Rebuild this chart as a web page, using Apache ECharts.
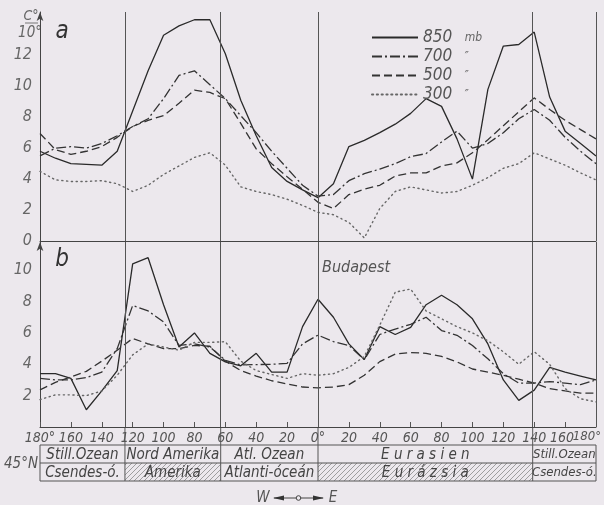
<!DOCTYPE html>
<html><head><meta charset="utf-8">
<script src="https://cdn.jsdelivr.net/npm/echarts@6/dist/echarts.min.js"></script>
<style>html,body{margin:0;padding:0;background:#ece8ed}#c{width:604px;height:505px}</style>
</head><body><div id="c"></div>
<script>
const lons = [-180,-170,-160,-150,-140,-130,-120,-110,-100,-90,-80,-70,-60,-50,-40,-30,-20,-10,0,10,20,30,40,50,60,70,80,90,100,110,120,130,140,150,160,170,180];
// panel a
const a850 = [5.8,5.35,5.0,4.95,4.9,5.8,8.4,11.0,13.3,13.9,14.3,14.3,12.1,9.1,6.8,4.75,3.85,3.3,2.8,3.7,6.1,6.5,7.0,7.55,8.25,9.2,8.7,6.6,4.0,9.8,12.6,12.7,13.5,9.3,7.1,6.3,5.5];
const a700 = [5.5,6.0,6.1,6.0,6.3,6.8,7.4,7.9,9.2,10.7,11.0,10.1,9.2,8.1,7.0,5.8,4.7,3.6,2.9,3.0,3.9,4.35,4.65,5.0,5.45,5.65,6.4,7.1,6.0,6.3,7.0,7.9,8.5,7.8,6.7,5.8,5.0];
const a500 = [6.95,5.9,5.6,5.8,6.1,6.7,7.4,7.8,8.1,8.9,9.75,9.6,9.2,7.6,5.95,5.0,4.15,3.35,2.5,2.1,3.0,3.35,3.6,4.2,4.4,4.4,4.85,5.05,5.7,6.55,7.45,8.35,9.25,8.5,7.8,7.2,6.6];
const a300 = [4.5,3.95,3.85,3.85,3.9,3.7,3.2,3.6,4.3,4.85,5.4,5.7,4.9,3.5,3.2,3.0,2.7,2.3,1.85,1.7,1.2,0.2,2.1,3.2,3.5,3.3,3.1,3.2,3.6,4.1,4.7,5.0,5.7,5.3,4.9,4.4,3.95];
// panel b
const b850 = [3.4,3.4,3.1,1.1,2.3,3.6,10.4,10.8,7.8,5.1,6.0,4.7,4.15,3.9,4.7,3.5,3.5,6.4,8.15,7.0,5.3,4.3,6.4,5.9,6.35,7.8,8.4,7.8,6.9,5.3,3.0,1.7,2.35,3.8,3.5,3.25,3.0];
const b700 = [3.1,3.0,3.0,3.15,3.5,5.0,7.75,7.4,6.7,5.2,5.3,5.1,4.25,3.96,3.98,4.0,4.06,5.3,5.86,5.45,5.2,4.3,5.9,6.25,6.55,7.0,6.15,5.85,5.2,4.35,3.4,2.8,2.8,2.9,2.8,2.7,3.0];
const b500 = [2.37,2.85,3.2,3.55,4.2,4.9,5.65,5.3,5.0,5.0,5.2,5.15,4.2,3.6,3.25,2.95,2.75,2.55,2.5,2.55,2.7,3.3,4.17,4.65,4.75,4.7,4.5,4.15,3.7,3.5,3.3,3.05,2.8,2.45,2.3,2.16,2.16];
const b300 = [1.75,2.05,2.05,2.0,2.3,3.3,4.6,5.3,5.1,4.9,5.4,5.4,5.44,4.2,3.6,3.35,3.1,3.4,3.3,3.4,3.8,4.5,6.5,8.6,8.8,7.4,6.9,6.4,6.0,5.5,4.8,4.0,4.8,4.0,2.45,1.8,1.6];

const levelNames = ['850 mb','700 ″','500 ″','300 ″'];
const dividers = [-125,-63,0,139,180];
const cellBounds = [-180,-125,-63,0,139,180];
const row1 = ['Still.Ozean','Nord Amerika','Atl. Ozean','E u r a s i e n','Still.Ozean'];
const row2 = ['Csendes-ó.','Amerika','Atlanti-óceán','E u r á z s i a','Csendes-ó.'];
const hatched = [false,true,false,true,false];

const FONT = "'Liberation Sans Narrow','DejaVu Sans Condensed','Liberation Sans',sans-serif";
const lineStyles = [
  {type:'solid', width:1.3, color:'#2a2a2a'},
  {type:[10,3,2,3], width:1.3, color:'#333'},
  {type:[8,4], width:1.3, color:'#333'},
  {type:[1.2,3.6], width:1.4, color:'#666', cap:'round'}
];
const panels = [[a850,a700,a500,a300],[b850,b700,b500,b300]];

const series = [];
panels.forEach((arrs,p)=>{
  arrs.forEach((arr,i)=>{
    const s = {
      type:'line', name:levelNames[i], xAxisIndex:p, yAxisIndex:p,
      data: lons.map((x,k)=>[x,arr[k]]),
      symbol:'none', showSymbol:false, silent:true, animation:false,
      lineStyle: lineStyles[i], z: 3
    };
    if(i===0){
      s.markLine = {silent:true, symbol:['none','none'], label:{show:false},
        lineStyle:{type:'solid', color:'#555', width:1},
        data: dividers.map(v=>({xAxis:v}))};
    }
    series.push(s);
  });
});

function lonLabel(v){
  if(v===0) return '0°';
  if(Math.abs(v)===180) return '180°';
  if(v===160) return '{s|160}';
  return String(Math.abs(v));
}

const chart = echarts.init(document.getElementById('c'), null, {renderer:'canvas'});
const option = {
  backgroundColor:'#ece8ed',
  animation:false,
  grid:[{left:40,right:8,top:12,height:229},{left:40,right:8,top:242,height:185}],
  xAxis:[
    {type:'value',gridIndex:0,min:-180,max:180,interval:20,
     axisLine:{show:true,onZero:false,lineStyle:{color:'#444',width:1}},axisTick:{show:false},axisLabel:{show:false},splitLine:{show:false}},
    {type:'value',gridIndex:1,min:-180,max:180,interval:20,
     axisLine:{show:true,onZero:false,lineStyle:{color:'#444',width:1}},
     axisTick:{show:true,inside:true,length:5,lineStyle:{color:'#555'}},
     axisLabel:{formatter:lonLabel,fontStyle:'italic',fontFamily:FONT,fontSize:14,color:'#555',margin:4,
       showMinLabel:true,showMaxLabel:false,hideOverlap:false,
       rich:{s:{fontStyle:'italic',fontFamily:FONT,fontSize:14,color:'#555',padding:[0,6,0,0]}}},
     splitLine:{show:false}}
  ],
  yAxis:[
    {type:'value',gridIndex:0,min:0,max:14.8,interval:2,
     axisLine:{show:true,onZero:false,symbol:['none','arrow'],symbolSize:[5,9],lineStyle:{color:'#444',width:1}},
     axisTick:{show:false},splitLine:{show:false},
     axisLabel:{formatter:v=>(v<=12&&Math.abs(v%2)<1e-9)?String(v):'',fontStyle:'italic',fontFamily:FONT,fontSize:16,color:'#666',margin:8}},
    {type:'value',gridIndex:1,min:0,max:11.8,interval:2,
     axisLine:{show:true,onZero:false,symbol:['none','arrow'],symbolSize:[5,9],lineStyle:{color:'#444',width:1}},
     axisTick:{show:false},splitLine:{show:false},
     axisLabel:{formatter:v=>(v>0&&v<=10&&Math.abs(v%2)<1e-9)?String(v):'',fontStyle:'italic',fontFamily:FONT,fontSize:16,color:'#666',margin:8}}
  ],
  legend:{orient:'vertical',left:366,top:24,itemWidth:46,itemHeight:12,itemGap:2,selectedMode:false,
    data:levelNames,
    itemStyle:{opacity:0},
    formatter:n=>{const p=n.split(' ');return '{n|'+p[0]+'} {u|'+p[1]+'}';},
    textStyle:{color:'#555',fontStyle:'italic',fontFamily:FONT,fontSize:16,lineHeight:14,
      rich:{n:{fontSize:17,fontStyle:'italic',fontFamily:FONT,color:'#555'},u:{fontSize:12,fontStyle:'italic',fontFamily:FONT,color:'#666',padding:[0,0,0,8]}}}},
  series:series
};
chart.setOption(option);

// hatch pattern
const pc = document.createElement('canvas'); pc.width=5; pc.height=5;
const g = pc.getContext('2d'); g.strokeStyle='#8a8a8a'; g.lineWidth=0.8;
g.beginPath(); g.moveTo(0,5); g.lineTo(5,0); g.moveTo(-1,1); g.lineTo(1,-1); g.moveTo(4,6); g.lineTo(6,4); g.stroke();

const px = v => chart.convertToPixel({xAxisIndex:1}, v);
const yAxisB = 427, tTop = 445, tMid = 463, tBot = 481;
const gfx = [];
for(let c=0;c<5;c++){
  const x0 = px(cellBounds[c]), x1 = px(cellBounds[c+1]);
  if(hatched[c]) gfx.push({type:'rect',shape:{x:x0,y:tMid,width:x1-x0,height:tBot-tMid},style:{fill:{image:pc,repeat:'repeat'},stroke:null},silent:true});
  const fs = c===4 ? 13 : 15;
  gfx.push({type:'text',x:(x0+x1)/2,y:(tTop+tMid)/2+1,style:{text:row1[c],font:`italic ${fs}px ${FONT}`,fill:'#444',align:'center',verticalAlign:'middle'},silent:true});
  gfx.push({type:'text',x:(x0+x1)/2,y:(tMid+tBot)/2+1,style:{text:row2[c],font:`italic ${fs}px ${FONT}`,fill:'#444',align:'center',verticalAlign:'middle'},silent:true});
}
const L = px(-180), R = px(180);
// right end tick label (drawn right-aligned so it stays inside the page)
gfx.push({type:'text',x:R+5,y:437,style:{text:lonLabel(180),font:`italic 13px ${FONT}`,fill:'#555',align:'right',verticalAlign:'middle'},silent:true});
gfx.push({type:'rect',shape:{x:L,y:tTop,width:R-L,height:tBot-tTop},style:{fill:null,stroke:'#555',lineWidth:1},silent:true});
gfx.push({type:'line',shape:{x1:L,y1:tMid,x2:R,y2:tMid},style:{stroke:'#555',lineWidth:1},silent:true});
[-125,-63,0,139].forEach(v=>{const x=px(v);gfx.push({type:'line',shape:{x1:x,y1:yAxisB,x2:x,y2:tBot},style:{stroke:'#555',lineWidth:1},silent:true});});
gfx.push({type:'text',x:21,y:464,style:{text:'45°N',font:`italic 15px ${FONT}`,fill:'#555',align:'center',verticalAlign:'middle'},silent:true});
gfx.push({type:'text',x:62,y:32,style:{text:'a',font:`italic 24px ${FONT}`,fill:'#333',align:'center',verticalAlign:'middle'},silent:true});
gfx.push({type:'text',x:62,y:260,style:{text:'b',font:`italic 24px ${FONT}`,fill:'#333',align:'center',verticalAlign:'middle'},silent:true});
gfx.push({type:'text',x:31,y:16,style:{text:'C°',font:`italic 14px ${FONT}`,fill:'#666',align:'center',verticalAlign:'middle'},silent:true});
gfx.push({type:'line',shape:{x1:25,y1:23,x2:38,y2:23},style:{stroke:'#777',lineWidth:1},silent:true});
gfx.push({type:'text',x:30,y:33,style:{text:'10°',font:`italic 15px ${FONT}`,fill:'#666',align:'center',verticalAlign:'middle'},silent:true});
gfx.push({type:'text',x:px(0)+4,y:268,style:{text:'Budapest',font:`italic 16px ${FONT}`,fill:'#555',align:'left',verticalAlign:'middle'},silent:true});
const wy = 498;
gfx.push({type:'text',x:263,y:wy,style:{text:'W',font:`italic 15px ${FONT}`,fill:'#555',align:'center',verticalAlign:'middle'},silent:true});
gfx.push({type:'text',x:333,y:wy,style:{text:'E',font:`italic 15px ${FONT}`,fill:'#555',align:'center',verticalAlign:'middle'},silent:true});
gfx.push({type:'line',shape:{x1:274,y1:wy,x2:323,y2:wy},style:{stroke:'#444',lineWidth:1.2},silent:true});
gfx.push({type:'polygon',shape:{points:[[273,wy],[284,wy-2.5],[284,wy+2.5]]},style:{fill:'#333'},silent:true});
gfx.push({type:'polygon',shape:{points:[[324,wy],[313,wy-2.5],[313,wy+2.5]]},style:{fill:'#333'},silent:true});
gfx.push({type:'circle',shape:{cx:298.5,cy:wy,r:2.3},style:{fill:'#ece8ed',stroke:'#444',lineWidth:1},silent:true});
chart.setOption({graphic:gfx});
</script></body></html>
